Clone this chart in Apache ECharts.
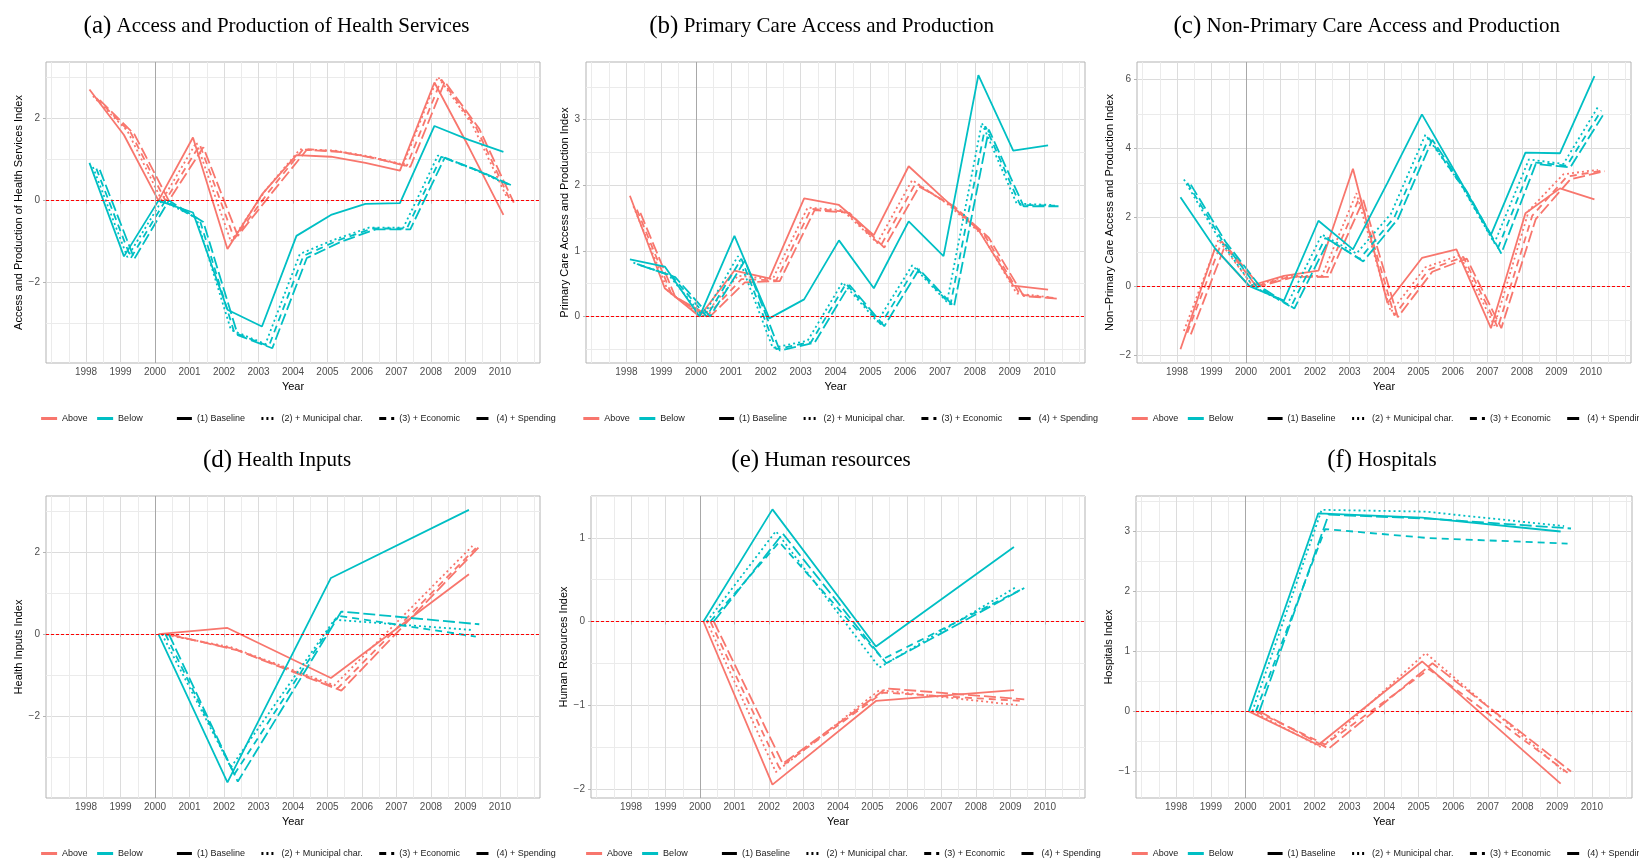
<!DOCTYPE html>
<html>
<head>
<meta charset="utf-8">
<title>Health indices, above / below</title>
<script src="https://cdn.jsdelivr.net/npm/echarts@6/dist/echarts.min.js"></script>
<style>
html, body { margin: 0; padding: 0; background: #fff; }
#chart { width: 1639px; height: 861px; }
</style>
</head>
<body>
<div id="chart"></div>
<script>
// years
var yearsLong = [1998, 1999, 2000, 2001, 2002, 2003, 2004, 2005, 2006, 2007, 2008, 2009, 2010];
var yearsShort = [2000, 2002, 2005, 2009];

// x tick labels and minor grid positions
var xMajor = [1998, 1999, 2000, 2001, 2002, 2003, 2004, 2005, 2006, 2007, 2008, 2009, 2010];
var xMinor = [1997, 1997.5, 1998.5, 1999.5, 2000.5, 2001.5, 2002.5, 2003.5, 2004.5, 2005.5, 2006.5, 2007.5, 2008.5, 2009.5, 2010.5, 2011];

// (a) access and production of health services: one row per specification (1)..(4)
var accessAbove = [
    [2.71, 1.6, 0, 1.54, -1.18, 0.15, 1.11, 1.07, 0.92, 0.73, 2.88, 1.3, -0.35],
    [2.55, 1.7, 0, 1.42, -1.0, 0.25, 1.25, 1.22, 1.08, 0.88, 3.02, 1.85, 0.08],
    [2.5, 1.65, 0, 1.36, -0.93, 0.22, 1.26, 1.2, 1.05, 0.85, 2.95, 1.8, 0.0],
    [2.45, 1.62, 0, 1.3, -0.86, 0.2, 1.24, 1.18, 1.03, 0.82, 2.9, 1.75, -0.05]
];
var accessBelow = [
    [0.92, -1.36, 0, -0.29, -2.66, -3.07, -0.86, -0.35, -0.08, -0.06, 1.82, 1.48, 1.19],
    [0.82, -1.38, 0, -0.42, -3.15, -3.5, -1.3, -0.95, -0.66, -0.66, 1.1, 0.78, 0.4],
    [0.78, -1.4, 0, -0.48, -3.22, -3.55, -1.35, -0.97, -0.68, -0.68, 1.07, 0.75, 0.38],
    [0.75, -1.42, 0, -0.52, -3.28, -3.6, -1.4, -1.0, -0.7, -0.7, 1.05, 0.72, 0.35]
];
var accessTicks = [-2, 0, 2];
var accessMinor = [-3, -1, 1, 3];

// (b) primary care
var primaryAbove = [
    [1.84, 0.43, 0, 0.7, 0.58, 1.8, 1.7, 1.24, 2.29, 1.8, 1.32, 0.47, 0.41],
    [1.68, 0.38, 0, 0.62, 0.57, 1.66, 1.62, 1.12, 2.08, 1.72, 1.25, 0.35, 0.29],
    [1.63, 0.33, 0, 0.57, 0.55, 1.64, 1.6, 1.08, 2.03, 1.7, 1.22, 0.33, 0.28],
    [1.58, 0.3, 0, 0.52, 0.54, 1.62, 1.58, 1.05, 1.98, 1.68, 1.2, 0.31, 0.27]
];
var primaryBelow = [
    [0.87, 0.76, 0, 1.23, -0.03, 0.26, 1.16, 0.43, 1.45, 0.92, 3.68, 2.53, 2.61],
    [0.82, 0.64, 0, 0.92, -0.48, -0.37, 0.52, -0.08, 0.78, 0.22, 2.95, 1.72, 1.7],
    [0.8, 0.62, 0, 0.88, -0.5, -0.39, 0.5, -0.12, 0.75, 0.18, 2.9, 1.7, 1.69],
    [0.78, 0.6, 0, 0.85, -0.52, -0.4, 0.48, -0.15, 0.72, 0.15, 2.85, 1.68, 1.68]
];
var primaryTicks = [0, 1, 2, 3];
var primaryMinor = [-0.5, 0.5, 1.5, 2.5, 3.5];

// (c) non-primary care
var nonPrimaryAbove = [
    [-1.83, 1.1, 0, 0.3, 0.45, 3.41, -0.49, 0.82, 1.07, -1.22, 2.12, 2.84, 2.52],
    [-1.3, 1.35, 0, 0.3, 0.3, 2.7, -0.75, 0.55, 0.9, -1.15, 2.2, 3.25, 3.38],
    [-1.35, 1.3, 0, 0.28, 0.28, 2.6, -0.85, 0.48, 0.85, -1.2, 2.05, 3.18, 3.35],
    [-1.4, 1.2, 0, 0.27, 0.27, 2.5, -0.9, 0.42, 0.8, -1.22, 1.95, 3.1, 3.34]
];
var nonPrimaryBelow = [
    [2.58, 1.1, 0, -0.42, 1.9, 1.07, 3.0, 4.99, 3.25, 1.49, 3.88, 3.86, 6.1],
    [3.1, 1.4, 0, -0.52, 1.5, 0.95, 2.1, 4.4, 3.0, 1.25, 3.68, 3.55, 5.2],
    [3.0, 1.35, 0, -0.6, 1.4, 0.8, 2.0, 4.3, 2.85, 1.1, 3.6, 3.5, 5.1],
    [2.95, 1.3, 0, -0.65, 1.35, 0.72, 1.95, 4.25, 2.75, 0.95, 3.55, 3.45, 5.05]
];
var nonPrimaryTicks = [-2, 0, 2, 4, 6];
var nonPrimaryMinor = [-1, 1, 3, 5];

// (d) health inputs
var inputsAbove = [
    [0, 0.15, -1.07, 1.46],
    [0, -0.32, -1.25, 2.15],
    [0, -0.36, -1.32, 2.1],
    [0, -0.4, -1.38, 2.13]
];
var inputsBelow = [
    [0, -3.62, 1.37, 3.03],
    [0, -3.25, 0.35, 0.1],
    [0, -3.42, 0.45, -0.06],
    [0, -3.6, 0.55, 0.24]
];
var inputsTicks = [-2, 0, 2];
var inputsMinor = [-3, -1, 1, 3];

// (e) human resources
var humanAbove = [
    [0, -1.95, -0.95, -0.82],
    [0, -1.8, -0.82, -1.0],
    [0, -1.75, -0.85, -0.95],
    [0, -1.7, -0.8, -0.93]
];
var humanBelow = [
    [0, 1.34, -0.3, 0.89],
    [0, 1.08, -0.55, 0.42],
    [0, 0.95, -0.45, 0.38],
    [0, 1.05, -0.5, 0.4]
];
var humanTicks = [-2, -1, 0, 1];
var humanMinor = [-1.5, -0.5, 0.5, 1.5];

// (f) hospitals
var hospAbove = [
    [0, -0.56, 0.83, -1.2],
    [0, -0.6, 0.97, -1.0],
    [0, -0.55, 0.7, -1.02],
    [0, -0.62, 0.8, -1.0]
];
var hospBelow = [
    [0, 3.29, 3.22, 2.99],
    [0, 3.35, 3.32, 3.08],
    [0, 3.03, 2.88, 2.79],
    [0, 3.27, 3.2, 3.04]
];
var hospTicks = [-1, 0, 1, 2, 3];
var hospMinor = [-0.5, 0.5, 1.5, 2.5, 3.5];

var specNames = ['(1) Baseline', '(2) + Municipal char.', '(3) + Economic', '(4) + Spending'];

var redC = '#F8766D';
var cyanC = '#00BFC4';
var specDash = ['solid', [2, 3], [7, 5], [12, 4]];
var dodge = [0.1, 0.2, 0.3, 0.4];
var xMin = 1996.84, xMax = 2011.16;

var panels = [
    {tag: '(a)', title: 'Access and Production of Health Services', yName: 'Access and Production of Health Services Index',
     years: yearsLong, above: accessAbove, below: accessBelow, ticks: accessTicks, minor: accessMinor,
     yMin: -3.96, yMax: 3.38, box: [46, 62, 494, 301], nameGap: 21, titleX: 276.5, titleY: 11, leg: [39.6, 414]},
    {tag: '(b)', title: 'Primary Care Access and Production', yName: 'Primary Care Access and Production Index',
     years: yearsLong, above: primaryAbove, below: primaryBelow, ticks: primaryTicks, minor: primaryMinor,
     yMin: -0.71, yMax: 3.88, box: [586, 62, 499, 301], nameGap: 16, titleX: 821.6, titleY: 11, leg: [581.8, 414]},
    {tag: '(c)', title: 'Non-Primary Care Access and Production', yName: 'Non\u2212Primary Care Access and Production Index',
     years: yearsLong, above: nonPrimaryAbove, below: nonPrimaryBelow, ticks: nonPrimaryTicks, minor: nonPrimaryMinor,
     yMin: -2.23, yMax: 6.51, box: [1137, 62, 494, 301], nameGap: 21, titleX: 1366.7, titleY: 11, leg: [1130.3, 414]},
    {tag: '(d)', title: 'Health Inputs', yName: 'Health Inputs Index',
     years: yearsShort, above: inputsAbove, below: inputsBelow, ticks: inputsTicks, minor: inputsMinor,
     yMin: -4.0, yMax: 3.37, box: [46, 496, 494, 302], nameGap: 21, titleX: 277, titleY: 445, leg: [39.6, 849]},
    {tag: '(e)', title: 'Human resources', yName: 'Human Resources Index',
     years: yearsShort, above: humanAbove, below: humanBelow, ticks: humanTicks, minor: humanMinor,
     yMin: -2.11, yMax: 1.5, box: [591, 496, 494, 302], nameGap: 21, titleX: 821, titleY: 445, leg: [584.6, 849]},
    {tag: '(f)', title: 'Hospitals', yName: 'Hospitals Index',
     years: yearsShort, above: hospAbove, below: hospBelow, ticks: hospTicks, minor: hospMinor,
     yMin: -1.44, yMax: 3.58, box: [1136, 496, 496, 302], nameGap: 21, titleX: 1382, titleY: 445, leg: [1130.3, 849]}
];

function yLabel(v) {
    return v < 0 ? '\u2212' + Math.abs(v) : String(v);
}

var chart = echarts.init(document.getElementById('chart'));
var option = {
    backgroundColor: '#fff',
    animation: false,
    title: [],
    grid: [],
    xAxis: [],
    yAxis: [],
    legend: [],
    series: []
};

var legendText = {fontSize: 9, color: '#1a1a1a', fontFamily: 'Liberation Sans'};

panels.forEach(function (p, i) {
    option.title.push({
        text: '{l|' + p.tag + '}{t| ' + p.title + '}',
        left: p.titleX,
        top: p.titleY,
        textAlign: 'center',
        padding: 0,
        textStyle: {
            fontWeight: 'normal',
            rich: {
                l: {fontFamily: 'Liberation Serif', fontWeight: 'normal', fontSize: 25, lineHeight: 30, color: '#000'},
                t: {fontFamily: 'Liberation Serif', fontWeight: 'normal', fontSize: 21, lineHeight: 30, color: '#000'}
            }
        }
    });

    option.grid.push({
        left: p.box[0], top: p.box[1], width: p.box[2], height: p.box[3],
        show: true, borderColor: '#b3b3b3', borderWidth: 1, backgroundColor: '#fff',
        outerBoundsMode: 'none'
    });

    // main x axis: labelled years
    option.xAxis.push({
        type: 'value', gridIndex: i, min: xMin, max: xMax,
        name: 'Year', nameLocation: 'middle', nameGap: 18,
        nameTextStyle: {color: '#000', fontSize: 11, fontFamily: 'Liberation Sans'},
        axisLine: {show: false},
        axisTick: {show: true, length: 3, lineStyle: {color: '#b3b3b3'}, customValues: xMajor},
        axisLabel: {customValues: xMajor, margin: 4, color: '#4d4d4d', fontSize: 10, fontFamily: 'Liberation Sans',
            formatter: function (v) { return String(v); }},
        splitLine: {show: true, lineStyle: {color: '#dcdcdc', width: 1}}
    });
    // minor x grid
    option.xAxis.push({
        type: 'value', gridIndex: i, min: xMin, max: xMax, position: 'bottom',
        axisLine: {show: false},
        axisTick: {show: false, customValues: xMinor},
        axisLabel: {show: false, customValues: xMinor},
        splitLine: {show: true, lineStyle: {color: '#ebebeb', width: 1}}
    });

    option.yAxis.push({
        type: 'value', gridIndex: i, min: p.yMin, max: p.yMax,
        name: p.yName, nameLocation: 'middle', nameGap: p.nameGap,
        nameTextStyle: {color: '#000', fontSize: 11, fontFamily: 'Liberation Sans'},
        axisLine: {show: false},
        axisTick: {show: true, length: 3, lineStyle: {color: '#b3b3b3'}, customValues: p.ticks},
        axisLabel: {customValues: p.ticks, margin: 6, color: '#4d4d4d', fontSize: 10, fontFamily: 'Liberation Sans',
            formatter: yLabel},
        splitLine: {show: true, lineStyle: {color: '#dcdcdc', width: 1}}
    });
    option.yAxis.push({
        type: 'value', gridIndex: i, min: p.yMin, max: p.yMax, position: 'left',
        axisLine: {show: false},
        axisTick: {show: false, customValues: p.minor},
        axisLabel: {show: false, customValues: p.minor},
        splitLine: {show: true, lineStyle: {color: '#ebebeb', width: 1}}
    });

    option.legend.push({
        data: ['Above', 'Below'],
        left: p.leg[0], top: p.leg[1], padding: 0, width: 200,
        itemWidth: 16, itemHeight: 10, itemGap: 8,
        selectedMode: false,
        textStyle: legendText,
        lineStyle: {width: 3},
        itemStyle: {opacity: 0}
    });
    option.legend.push({
        data: specNames,
        left: p.leg[0] + 135.8, top: p.leg[1], padding: 0, width: 700,
        itemWidth: 15, itemHeight: 10, itemGap: 15,
        selectedMode: false,
        textStyle: legendText,
        lineStyle: {width: 3},
        itemStyle: {opacity: 0}
    });

    [['Above', p.above, redC], ['Below', p.below, cyanC]].forEach(function (g, gi) {
        g[1].forEach(function (vals, k) {
            var s = {
                type: 'line',
                name: g[0],
                xAxisIndex: 2 * i,
                yAxisIndex: 2 * i,
                symbol: 'none',
                silent: true,
                color: g[2],
                lineStyle: {color: g[2], width: 1.8, type: specDash[k]},
                data: p.years.map(function (yr, j) { return [yr + dodge[k], vals[j]]; })
            };
            if (gi === 0 && k === 0) {
                s.markLine = {
                    silent: true,
                    symbol: ['none', 'none'],
                    label: {show: false},
                    data: [
                        {xAxis: 2000, lineStyle: {color: '#a8a8a8', width: 1, type: 'solid'}},
                        {yAxis: 0, lineStyle: {color: '#ff0000', width: 1.2, type: [3, 2]}}
                    ]
                };
            }
            option.series.push(s);
        });
    });
});

// black keys for the specification legend
specNames.forEach(function (nm, k) {
    option.series.push({
        type: 'line', name: nm, xAxisIndex: 0, yAxisIndex: 0,
        symbol: 'none', silent: true, data: [],
        color: '#000',
        lineStyle: {color: '#000', width: 1.8, type: specDash[k]}
    });
});

chart.setOption(option);

window.onresize = function () {
    chart.resize();
};
</script>
</body>
</html>
